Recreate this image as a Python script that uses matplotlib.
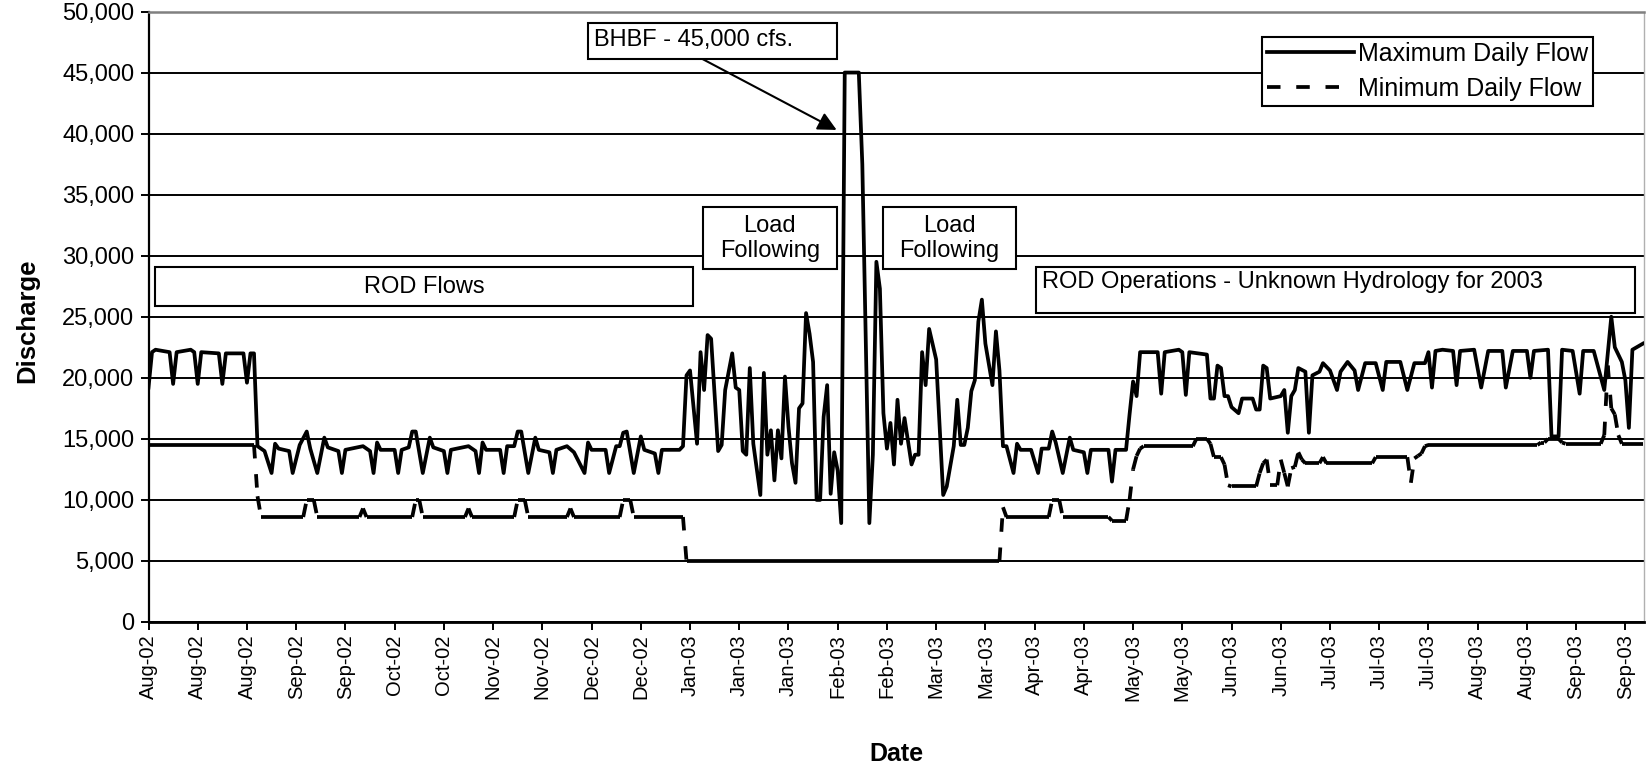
import numpy as np
import matplotlib
matplotlib.use("Agg")
import matplotlib.pyplot as plt
import matplotlib.dates as mdates
from matplotlib.collections import LineCollection
from matplotlib.lines import Line2D
from matplotlib.patches import Rectangle
from matplotlib.ticker import FuncFormatter, MultipleLocator, FixedLocator

plt.rcParams['font.family'] = ['Liberation Sans', 'DejaVu Sans']

start = np.datetime64('2002-08-01')
n_days = 426

# maximum daily flow (cfs), corners of the line: days after 1 Aug 2002
max_days = [0, 1, 2, 6, 7, 8, 12, 13, 14, 15, 20, 21, 22, 27, 28, 29, 30,
            31, 33, 35, 36, 37, 40, 41, 43, 45, 46, 48, 50, 51, 54, 55, 56,
            61, 63, 64, 65, 66, 70, 71, 72, 74, 75, 76, 78, 80, 81, 84, 85, 86,
            91, 93, 94, 95, 96, 100, 101, 102, 104, 105, 106, 108, 110, 111,
            114, 115, 116, 119, 121, 124, 125, 126, 130, 131, 133, 134, 135,
            136, 138, 140, 141, 144, 145, 146, 151, 152,
            153, 154, 156, 157, 158, 159, 160, 162, 163, 164, 166, 167, 168,
            169, 170, 171, 172, 174, 175, 176, 177, 178, 179, 180, 181, 182,
            183, 184, 185, 186, 187, 188, 189, 190, 191, 192, 193, 194, 195,
            196, 197, 198, 202, 203, 205, 206, 207, 208, 209, 210, 211, 212,
            213, 214, 215, 217, 218, 219, 220, 221, 222, 224, 226, 227, 229,
            230, 231, 232, 233, 234, 235, 236, 237, 238, 240, 241, 242, 243,
            244, 246, 247, 248, 251, 253, 254, 256, 257, 258, 260, 262, 263,
            266, 267, 268, 273, 274, 275, 278, 279, 280, 281, 282, 286, 287,
            288, 289, 293, 294, 295, 296, 301, 302, 303, 304, 305, 306, 307,
            308, 310, 311, 314, 315, 316, 317, 318, 319, 322, 323, 324, 325,
            326, 327, 329, 330, 331, 333, 334, 336, 338, 339, 341, 343, 344,
            346, 349, 351, 352, 356, 358, 360, 363, 364, 365, 366, 368, 371,
            372, 373, 377, 379, 381, 385, 386, 388, 392, 393, 394, 398, 399,
            401, 402, 405, 407, 408, 411, 414, 416, 417, 419, 420, 421, 422, 425]
max_flow = [19200, 22100, 22300, 22100, 19500, 22100, 22300, 22100, 19500, 22100,
            22000, 19500, 22000, 22000, 19600, 22000, 22000,
            14400, 14000, 12200, 14600, 14200, 14000, 12200, 14500, 15600, 14200,
            12200, 15100, 14300, 14000, 12200, 14100,
            14400, 14000, 12200, 14700, 14100, 14100, 12200, 14100, 14300, 15600,
            15600, 12200, 15100, 14300, 14000, 12200, 14100,
            14400, 14000, 12200, 14700, 14100, 14100, 12200, 14400, 14400, 15600,
            15600, 12200, 15100, 14100,
            13900, 12200, 14100, 14400, 13900, 12200, 14700, 14100, 14100, 12200,
            14400, 14400, 15500,
            15600, 12200, 15200, 14100, 13800, 12200, 14100, 14100, 14400,
            20200, 20600, 14600, 22100, 19000, 23500, 23200, 14000, 14500, 19000,
            22000, 19200, 19000,
            14000, 13700, 20800, 14600, 10400, 20400, 13700, 15700, 11600, 15700,
            13400, 20100, 16000,
            13000, 11400, 17500, 17900, 25300, 23600, 21300, 10000, 10000, 16800,
            19400, 10500, 13900,
            12400, 8100, 45000, 45000, 37500, 8100, 13700, 29500, 27300, 17100,
            14200, 16300, 12900,
            18200, 14600, 16700, 12900, 13700, 13700, 22100, 19400, 24000, 21500,
            10400, 11100, 14400,
            18200, 14500, 14500, 15900, 18900, 19800, 24600, 26400, 22800, 19400,
            23800, 20600, 14400,
            14400, 12200, 14600, 14100, 14100, 12200, 14200, 14200, 15600, 14700,
            12200, 15100, 14100,
            13900, 12200, 14100, 14100, 11500, 14100, 14100, 17000, 19700, 18500,
            22100, 22100, 22100,
            18700, 22100, 22300, 22100, 18600, 22100, 21900, 18300, 18300, 21000,
            20800, 18500, 18500,
            17600, 17100, 18300, 18300, 17400, 17400, 21000, 20800, 18300, 18500,
            19000, 15500, 18500,
            19000, 20800, 20500, 15500, 20200, 20500, 21200, 20600, 19000, 20500,
            21300, 20600, 19000,
            21200, 21200, 19000, 21300, 21300, 19000, 21200, 21200, 22100, 19200,
            22200, 22300, 22200,
            19400, 22200, 22300, 19200, 22200, 22200, 19200, 22200, 22200, 20000,
            22200, 22300, 15200,
            15200, 22300, 22200, 18700, 22200, 22200, 19000, 25000, 22500, 21300,
            19800, 15900, 22300, 22800]

# minimum daily flow (cfs), one value per day written as (flow, number of days)
min_runs = [(14500, 31), (10300, 1), (8600, 13), (10000, 3), (8600, 13), (9300, 1),
            (8600, 14), (10000, 2), (8600, 13), (9300, 1), (8600, 13), (10000, 3),
            (8600, 12), (9300, 1), (8600, 14), (10000, 3), (8600, 15), (5000, 90),
            (9400, 1), (8600, 13), (10000, 3), (8600, 14), (8300, 5), (10000, 1),
            (12500, 1), (13600, 1), (14200, 1), (14400, 15), (15000, 4), (14600, 1),
            (13500, 3), (12900, 1), (11200, 1), (11100, 8), (12200, 1), (13000, 1),
            (13300, 1), (11200, 3), (13300, 1), (12200, 1), (11100, 1), (12600, 1),
            (12700, 1), (13900, 1), (13300, 1), (13000, 5), (13500, 1), (13000, 14),
            (13500, 10), (11400, 1), (13400, 1), (13600, 1), (13800, 1), (14400, 1),
            (14500, 32), (14700, 2), (15000, 4), (14700, 1), (14600, 11), (15300, 1),
            (21000, 1), (17500, 1), (17000, 1), (15300, 1), (14600, 7)]

tick_step = 14
series_labels = ['Maximum Daily Flow', 'Minimum Daily Flow']

# --- build series
x0 = mdates.date2num(start)
max_x = x0 + np.array(max_days)
min_flow = np.concatenate([np.full(n, v) for v, n in min_runs])
min_x = x0 + np.arange(len(min_flow))

fig = plt.figure(figsize=(16.46, 7.68), dpi=100)
ax = fig.add_axes([148.5 / 1646, 146 / 768, 1495.5 / 1646, 610.5 / 768])

lw = 2.7
dash = (0, (3.6, 4.2))
ax.plot(max_x, max_flow, color='black', lw=lw, solid_joinstyle='round', zorder=3)
# each daily piece of the dashed line starts its own dash, like the original
segs = np.stack([np.column_stack([min_x[:-1], min_flow[:-1]]),
                 np.column_stack([min_x[1:], min_flow[1:]])], axis=1)
ax.add_collection(LineCollection(segs, colors='black', linewidths=lw,
                                 linestyles=[dash], zorder=3))

ax.set_xlim(x0, x0 + 425.3)
ax.set_ylim(0, 50000)
ax.yaxis.set_major_locator(MultipleLocator(5000))
ax.yaxis.set_major_formatter(FuncFormatter(lambda v, p: f'{v:,.0f}'))
ax.xaxis.set_major_locator(FixedLocator(x0 + np.arange(0, n_days - 5, tick_step)))
ax.xaxis.set_major_formatter(mdates.DateFormatter('%b-%y'))

ax.yaxis.grid(True, color='black', lw=1.4)
ax.set_axisbelow(True)
ax.get_ygridlines()[-1].set_visible(False)
ax.tick_params(axis='y', direction='out', length=5.8, width=1.4, labelsize=17, pad=4.3)
ax.tick_params(axis='x', direction='out', length=5.8, width=1.4, labelsize=14.5, pad=3,
               labelrotation=90)
for side, col, w in [('top', '#808080', 1.8), ('right', '#b0b0b0', 1.0),
                     ('left', 'black', 1.6), ('bottom', 'black', 2.0)]:
    ax.spines[side].set_color(col)
    ax.spines[side].set_linewidth(w)

fig.text(896 / 1646, 1 - 754 / 768, 'Date', ha='center', va='center',
         fontsize=18, fontweight='bold')
fig.text(27 / 1646, 1 - 321 / 768, 'Discharge', rotation=90, ha='center', va='center',
         fontsize=18.5, fontweight='bold')

# annotation boxes (positions in days / cfs)
def box(d0, d1, f0, f1):
    ax.add_patch(Rectangle((x0 + d0, f0), d1 - d0, f1 - f0, facecolor='white',
                           edgecolor='black', lw=1.5, zorder=4))

box(1.8, 154.8, 25900, 29070)
ax.text(x0 + 78.3, 27450, 'ROD Flows', ha='center', va='center', fontsize=17, zorder=5)
box(157.8, 195.7, 28900, 33990)
ax.text(x0 + 176.7, 31400, 'Load\nFollowing', ha='center', va='center', fontsize=17,
        linespacing=1.15, zorder=5)
box(208.8, 246.6, 28900, 33990)
ax.text(x0 + 227.7, 31400, 'Load\nFollowing', ha='center', va='center', fontsize=17,
        linespacing=1.15, zorder=5)
box(252.3, 422.6, 25310, 29070)
ax.text(x0 + 254.0, 27850, 'ROD Operations - Unknown Hydrology for 2003', ha='left',
        va='center', fontsize=17, zorder=5)
box(125.1, 195.7, 46100, 49060)
ax.text(x0 + 126.8, 47650, 'BHBF - 45,000 cfs.', ha='left', va='center', fontsize=17,
        zorder=5)
ax.annotate('', xy=(x0 + 195.7, 40300), xytext=(x0 + 157.6, 46100),
            arrowprops=dict(arrowstyle='-|>', color='black', lw=1.5, mutation_scale=28,
                            shrinkA=0, shrinkB=0), zorder=6)

handles = [Line2D([], [], color='black', lw=lw),
           Line2D([], [], color='black', lw=lw, linestyle=dash)]
leg = ax.legend(handles, series_labels, loc='upper right', bbox_to_anchor=(0.966, 0.958),
                fontsize=18, frameon=True, fancybox=False, edgecolor='black',
                framealpha=1, handlelength=3.5, handletextpad=0.15, borderpad=0.2,
                labelspacing=0.42, borderaxespad=0)
leg.get_frame().set_linewidth(1.5)
leg.set_zorder(7)

fig.savefig('out.png', dpi=100)
